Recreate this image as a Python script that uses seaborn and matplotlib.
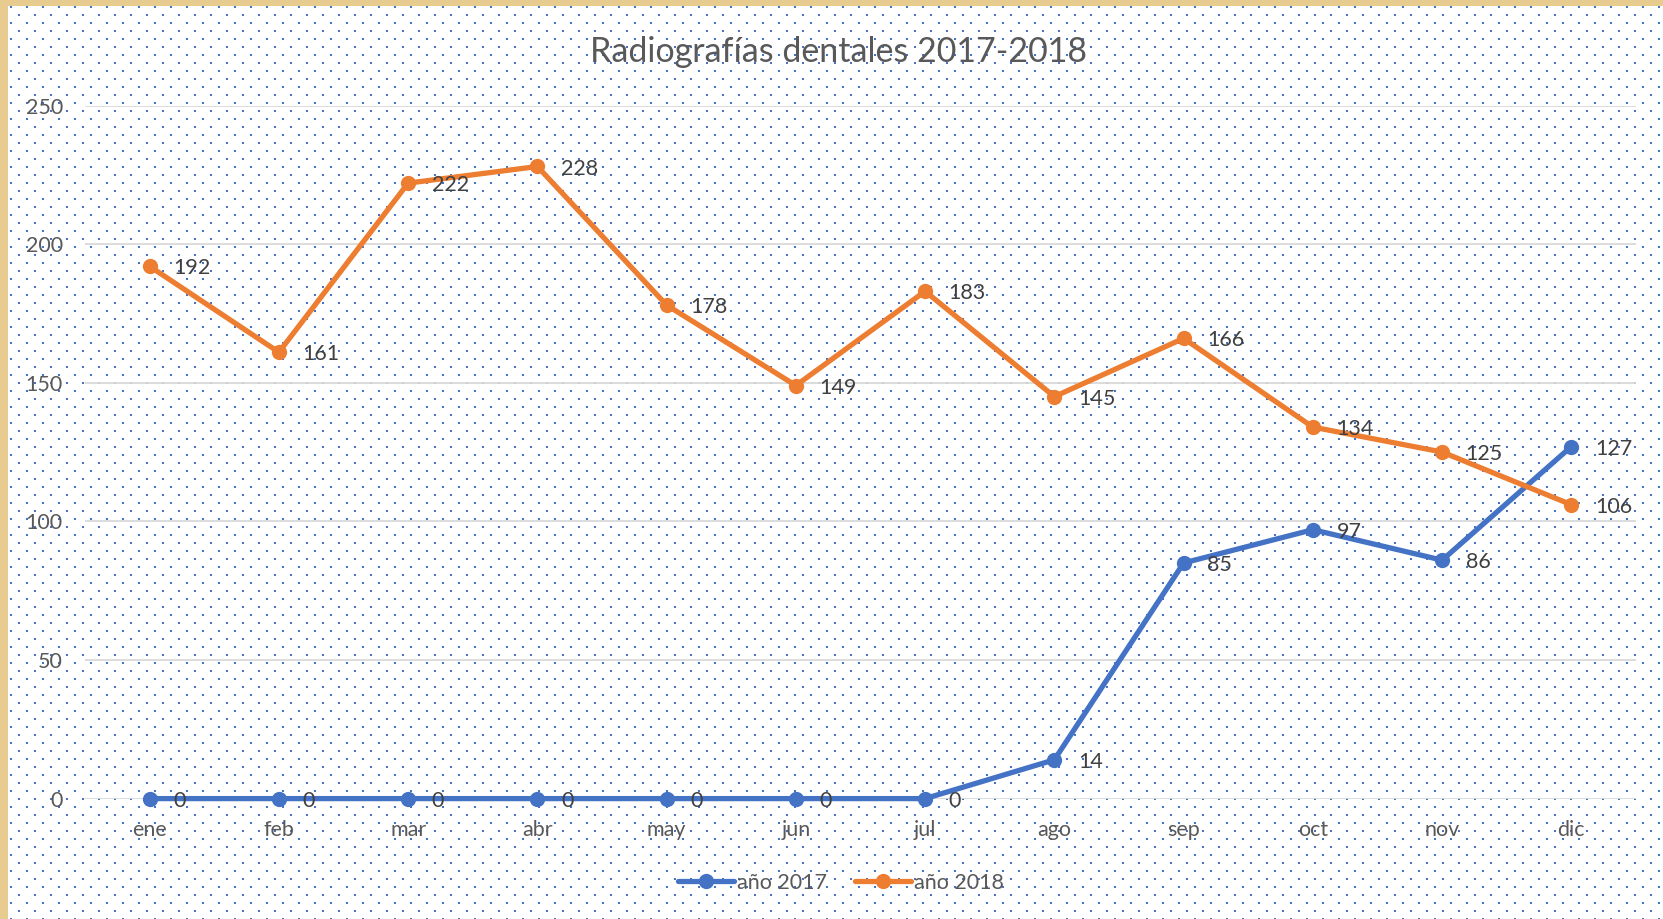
import numpy as np
import pandas as pd
import matplotlib
matplotlib.use("Agg")
import matplotlib.pyplot as plt
import seaborn as sns

# ---- data ----
months = ["ene", "feb", "mar", "abr", "may", "jun", "jul", "ago", "sep", "oct", "nov", "dic"]
series_names = ["año 2017", "año 2018"]
values_2017 = [0, 0, 0, 0, 0, 0, 0, 14, 85, 97, 86, 127]
values_2018 = [192, 161, 222, 228, 178, 149, 183, 145, 166, 134, 125, 106]
y_ticks = [0, 50, 100, 150, 200, 250]
title = "Radiografías dentales 2017-2018"

colors = {"año 2017": "#4472C4", "año 2018": "#ED7D31"}

df = pd.DataFrame({
    "mes": months * 2,
    "valor": values_2017 + values_2018,
    "serie": [series_names[0]] * len(months) + [series_names[1]] * len(months),
})

sns.set_theme(style="white")
plt.rcParams["font.family"] = ["Lato", "DejaVu Sans"]

W, H = 1663, 919
fig = plt.figure(figsize=(W / 100, H / 100), dpi=100)

# background: white with staggered blue dot pattern, tan frame top/left
bg = np.ones((H, W, 3))
dot = np.array([0x44, 0x72, 0xC4]) / 255.0
for r, y in enumerate(range(6, H, 8)):
    x0 = 18 if (r % 2 == 1) else 10
    for x in range(x0, W, 16):
        bg[y:y + 2, x:x + 2] = dot
tan = np.array([0xE8, 0xCB, 0x8E]) / 255.0
bg[:6, :] = tan
bg[:, :8] = tan
fig.figimage(bg, xo=0, yo=0, origin="upper", zorder=-10)

ax = fig.add_axes([85 / W, 1 - 798.6 / H, (1636 - 85) / W, (798.6 - 105.5) / H])
ax.set_facecolor("none")

sns.lineplot(
    data=df, x="mes", y="valor", hue="serie", palette=colors, sort=False,
    marker="o", markersize=11, markeredgewidth=0, linewidth=3.8, ax=ax,
)
for line in ax.lines:
    line.set_clip_on(False)
    line.set_zorder(3)

# data labels
for name, vals in zip(series_names, [values_2017, values_2018]):
    for i, v in enumerate(vals):
        ax.annotate(str(v), xy=(i, v), xytext=(17, -1.5), textcoords="offset points",
                    ha="left", va="center", fontsize=15.5, color="#404040", zorder=4)

ax.set_xlim(-0.5, len(months) - 0.5)
ax.set_ylim(0, 250)
ax.set_yticks(y_ticks)
ax.set_yticklabels([str(t) for t in y_ticks])
ax.set_xlabel("")
ax.set_ylabel("")
ax.grid(axis="y", color="#D9D9D9", linewidth=1.3)
ax.grid(axis="x", visible=False)
ax.set_axisbelow(True)
for s in ax.spines.values():
    s.set_visible(False)
ax.tick_params(axis="y", length=0, pad=16, labelsize=15.5, labelcolor="#595959")
ax.tick_params(axis="x", length=0, pad=15.5, labelsize=15.5, labelcolor="#595959")

fig.text(838 / W, 1 - 52 / H, title, ha="center", va="center", fontsize=24.5, color="#595959")

handles, labels = ax.get_legend_handles_labels()
leg = ax.legend(handles, labels, loc="center", bbox_to_anchor=(841 / W, 1 - 883 / H),
                bbox_transform=fig.transFigure, ncol=2, frameon=False, fontsize=15.5,
                handlelength=2.6, handletextpad=0.15, columnspacing=1.3, labelcolor="#595959")

fig.savefig("out.png", dpi=100)
